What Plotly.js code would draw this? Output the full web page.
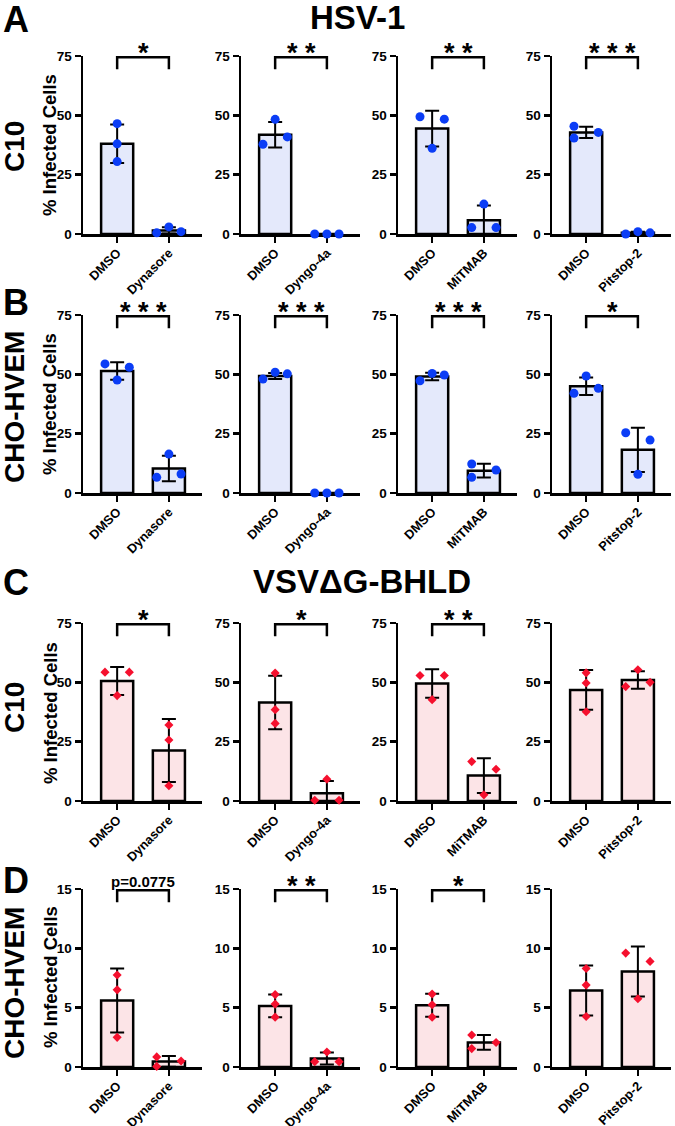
<!DOCTYPE html>
<html>
<head>
<meta charset="utf-8">
<script src="https://cdn.plot.ly/plotly-3.0.1.min.js"></script>
<style>html,body{margin:0;padding:0;background:#fff;}#chart{width:675px;height:1126px;}</style>
</head>
<body>
<div id="chart"></div>
<script>
// ---------------- DATA ----------------
const control = "DMSO";
const treatments = ["Dynasore", "Dyngo-4a", "MiTMAB", "Pitstop-2"];
const virusTitles = ["HSV-1", "VSVΔG-BHLD"];
const panelLetters = ["A", "B", "C", "D"];
const cellLines = ["C10", "CHO-HVEM", "C10", "CHO-HVEM"];
const yTitle = "% Infected Cells";
const yTicksBig = [0, 25, 50, 75];
const yTicksSmall = [0, 5, 10, 15];

// Row A: HSV-1 / C10   (each entry: [DMSO, treatment])
const hsvC10Mean = [[38.0, 1.5], [41.8, 0.0], [44.4, 5.8], [42.8, 0.5]];
const hsvC10Sd   = [[8.1, 1.3], [5.4, 0.0], [7.5, 6.2], [2.4, 0.5]];
const hsvC10Pts  = [[[46.5, 38.0, 30.5], [0.5, 3.0, 1.0]],
                    [[37.8, 48.3, 40.9], [0.0, 0.0, 0.0]],
                    [[49.4, 36.1, 48.4], [2.7, 12.6, 2.7]],
                    [[45.4, 40.4, 42.8], [0.0, 1.0, 0.5]]];
const hsvC10Sig  = ["*", "**", "**", "***"];

// Row B: HSV-1 / CHO-HVEM
const hsvChoMean = [[51.4, 10.3], [49.3, 0.0], [49.1, 9.4], [45.0, 18.2]];
const hsvChoSd   = [[3.7, 5.4], [1.3, 0.0], [1.6, 2.9], [3.7, 9.3]];
const hsvChoPts  = [[[54.4, 47.6, 53.0], [6.6, 16.4, 8.0]],
                    [[48.0, 50.9, 50.2], [0.0, 0.0, 0.0]],
                    [[47.3, 50.4, 49.7], [12.2, 6.6, 9.7]],
                    [[42.0, 49.3, 44.1], [25.4, 7.9, 22.3]]];
const hsvChoSig  = ["***", "***", "***", "*"];

// Row C: VSVΔG-BHLD / C10
const vsvC10Mean = [[50.6, 21.3], [41.5, 3.3], [49.5, 10.7], [46.8, 51.0]];
const vsvC10Sd   = [[5.9, 13.3], [11.3, 5.1], [6.0, 7.3], [8.4, 3.7]];
const vsvC10Pts  = [[[54.3, 44.4, 54.3], [32.0, 25.7, 6.4]],
                    [[53.9, 38.5, 32.7], [0.3, 9.2, 0.3]],
                    [[52.9, 42.7, 52.9], [16.6, 2.6, 13.4]],
                    [[54.0, 49.7, 37.6], [48.2, 55.3, 50.0]]];
const vsvC10Sig  = ["*", "*", "**", ""];

// Row D: VSVΔG-BHLD / CHO-HVEM
const vsvChoMean = [[5.6, 0.47], [5.15, 0.72], [5.2, 2.07], [6.45, 8.05]];
const vsvChoSd   = [[2.7, 0.45], [0.95, 0.5], [0.97, 0.62], [2.1, 2.1]];
const vsvChoPts  = [[[7.75, 6.5, 2.5], [0.05, 0.85, 0.5]],
                    [[6.1, 5.3, 4.2], [0.45, 1.27, 0.45]],
                    [[6.15, 5.25, 4.2], [1.55, 2.7, 2.07]],
                    [[8.3, 6.9, 4.25], [9.6, 5.75, 8.9]]];
const vsvChoSig  = ["p=0.0775", "**", "*", ""];

// ---------------- PRESENTATION (layout only) ----------------
// horizontal slot of each dot (-1 left, 0 centre, 1 right), per row/panel/bar
const dotSlots = [
  [[[0,0,0],[-1,0,1]], [[-1,0,1],[-1,0,1]], [[-1,0,1],[-1,0,1]], [[-1,-1,1],[-1,0,1]]],
  [[[-1,0,1],[-1,0,1]], [[-1,0,1],[-1,0,1]], [[-1,0,1],[-1,-1,1]], [[-1,0,1],[-1,0,1]]],
  [[[-1,0,1],[0,0,0]], [[0,0,0],[-1,0,1]], [[-1,0,1],[-1,0,1]], [[0,0,0],[-1,0,1]]],
  [[[0,0,0],[-1,-1,1]], [[0,0,0],[-1,0,1]], [[0,0,0],[-1,-1,1]], [[0,0,0],[-1,0,1]]]
];
const W = 675, H = 1126;
const colLeft = [83, 241, 398, 552];
const colWidth = 119;
const rowTop = [56, 315, 623, 889];
const rowHeight = 178;
const rowTitleY = [145, 404, 713, 977];
const rowLabelY = [147, 407, 708, 983];
const letterY = [20, 303, 582, 880];
const FONT = "Liberation Sans, Arial, Helvetica, sans-serif";
const fills = ["#E4E9FB", "#E4E9FB", "#FCE4E7", "#FCE4E7"];
const dotColor = ["#0B3DF6", "#0B3DF6", "#F5102E", "#F5102E"];
const dotSymbol = ["circle", "circle", "diamond", "diamond"];

const rows = [
  {mean: hsvC10Mean, sd: hsvC10Sd, pts: hsvC10Pts, sig: hsvC10Sig, ticks: yTicksBig},
  {mean: hsvChoMean, sd: hsvChoSd, pts: hsvChoPts, sig: hsvChoSig, ticks: yTicksBig},
  {mean: vsvC10Mean, sd: vsvC10Sd, pts: vsvC10Pts, sig: vsvC10Sig, ticks: yTicksBig},
  {mean: vsvChoMean, sd: vsvChoSd, pts: vsvChoPts, sig: vsvChoSig, ticks: yTicksSmall}
];

const traces = [];
const layout = {
  width: W, height: H,
  margin: {l: 0, r: 0, t: 0, b: 0},
  paper_bgcolor: "#fff", plot_bgcolor: "#fff",
  showlegend: false,
  font: {family: FONT, color: "#000"},
  annotations: [], shapes: []
};

const px = v => v / W;
const py = v => 1 - v / H;

rows.forEach((row, r) => {
  const ymax = row.ticks[row.ticks.length - 1];
  treatments.forEach((tr, c) => {
    const idx = r * 4 + c + 1;
    const xa = "x" + (idx === 1 ? "" : idx), ya = "y" + (idx === 1 ? "" : idx);
    const xk = "xaxis" + (idx === 1 ? "" : idx), yk = "yaxis" + (idx === 1 ? "" : idx);
    const cats = [control, tr];
    layout[xk] = {
      domain: [px(colLeft[c]), px(colLeft[c] + colWidth)],
      anchor: ya, range: [-0.66, 1.64], fixedrange: true,
      tickmode: "array", tickvals: [0, 1], ticktext: cats,
      tickangle: -45, ticks: "outside", ticklen: 6, tickwidth: 2.5, tickcolor: "#000",
      ticklabelstandoff: -2,
      showline: true, linewidth: 2.5, linecolor: "#000", showgrid: false, zeroline: false,
      layer: "below traces",
      tickfont: {family: FONT, size: 12.8, weight: "bold", color: "#000"}
    };
    layout[yk] = {
      domain: [py(rowTop[r] + rowHeight), py(rowTop[r])],
      anchor: xa, range: [0, ymax], fixedrange: true,
      tickmode: "array", tickvals: row.ticks,
      ticks: "outside", ticklen: 6, tickwidth: 2.5, tickcolor: "#000",
      showline: true, linewidth: 2.5, linecolor: "#000", showgrid: false, zeroline: false,
      tickfont: {family: FONT, size: 13.5, weight: "bold", color: "#000"}
    };
    // bars with SD error bars
    traces.push({
      type: "bar", x: [0, 1], y: row.mean[c], xaxis: xa, yaxis: ya, width: 0.62,
      marker: {color: fills[r], line: {color: "#000", width: 2.5}},
      error_y: {type: "data", array: row.sd[c], visible: true, color: "#000", thickness: 2, width: 7},
      hoverinfo: "skip"
    });
    // individual points
    [0, 1].forEach(b => {
      const vals = row.pts[c][b];
      traces.push({
        type: "scatter", mode: "markers", xaxis: xa, yaxis: ya, cliponaxis: false,
        x: vals.map((v, k) => b + dotSlots[r][c][b][k] * 0.235),
        y: vals,
        marker: {color: dotColor[r], symbol: dotSymbol[r], size: dotSymbol[r] === "circle" ? 9 : 7, line: {width: 0}},
        hoverinfo: "skip"
      });
    });
    // significance bracket
    const s = row.sig[c];
    if (s) {
      traces.push({
        type: "scatter", mode: "lines", xaxis: xa, yaxis: ya, cliponaxis: false,
        x: [0, 0, 1, 1], y: [ymax * 0.925, ymax * 0.993, ymax * 0.993, ymax * 0.925],
        line: {color: "#000", width: 2.5}, hoverinfo: "skip"
      });
      const isStar = s.indexOf("*") === 0;
      layout.annotations.push({
        xref: xa, yref: ya, x: 0.5, y: ymax, yanchor: "bottom", xanchor: "center",
        text: "<b>" + (isStar ? s.split("").join(" ") : s) + "</b>", showarrow: false,
        yshift: isStar ? -14 : -3,
        font: {family: FONT, size: isStar ? 27 : 15, color: "#000"}
      });
    }
  });
  // row label, y title, letter
  layout.annotations.push({
    xref: "paper", yref: "paper", x: px(14), y: py(rowLabelY[r]), xanchor: "center", yanchor: "middle",
    text: "<b>" + cellLines[r] + "</b>", textangle: -90, showarrow: false,
    font: {family: FONT, size: 28, color: "#000"}
  });
  layout.annotations.push({
    xref: "paper", yref: "paper", x: px(50), y: py(rowTitleY[r]), xanchor: "center", yanchor: "middle",
    text: "<b>" + yTitle + "</b>", textangle: -90, showarrow: false,
    font: {family: FONT, size: 18.5, color: "#000"}
  });
  layout.annotations.push({
    xref: "paper", yref: "paper", x: px(16), y: py(letterY[r]), xanchor: "center", yanchor: "middle",
    text: "<b>" + panelLetters[r] + "</b>", showarrow: false,
    font: {family: FONT, size: 36, color: "#000"}
  });
});
// virus titles
[[357, 17], [362, 581]].forEach((p, i) => {
  layout.annotations.push({
    xref: "paper", yref: "paper", x: px(p[0]), y: py(p[1]), xanchor: "center", yanchor: "middle",
    text: "<b>" + virusTitles[i] + "</b>", showarrow: false,
    font: {family: FONT, size: 33, color: "#000"}
  });
});

Plotly.newPlot("chart", traces, layout, {displayModeBar: false, staticPlot: true});
</script>
</body>
</html>
